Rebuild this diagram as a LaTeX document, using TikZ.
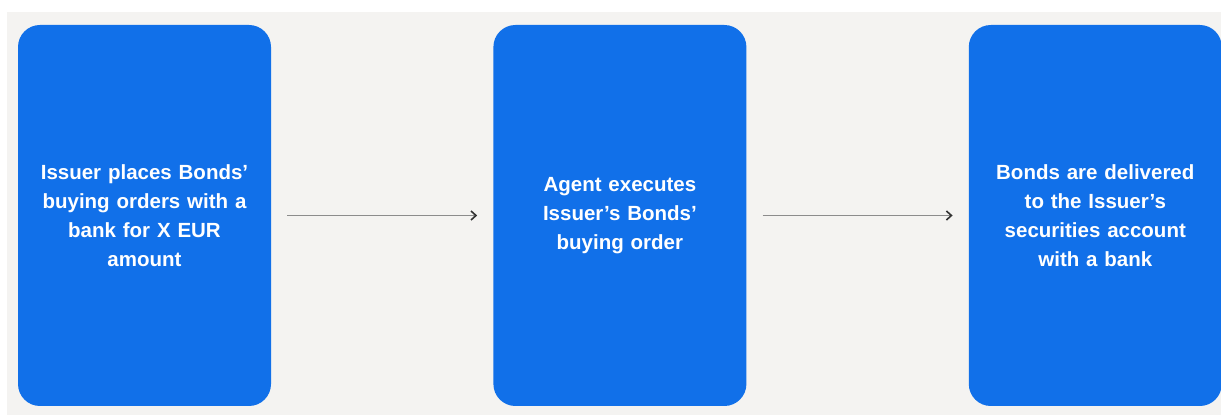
\documentclass[tikz,border=0pt]{standalone}
\usepackage{fontspec}
\setmainfont{Liberation Sans}
\usepackage{xcolor}
\usetikzlibrary{arrows.meta,positioning}
\definecolor{stepblue}{HTML}{1170E9}
\definecolor{pagegrey}{HTML}{F4F3F1}
\definecolor{linegrey}{HTML}{8C8C8C}
\definecolor{tipgrey}{HTML}{333333}
\begin{document}
\begin{tikzpicture}[
    x=1pt, y=1pt,
    node distance=222pt,
    stepbox/.style={rectangle, fill=stepblue, rounded corners=22pt, minimum width=253pt, minimum height=381pt,
        text=white, font=\fontsize{20.5}{29}\selectfont\bfseries, align=center, text width=235pt},
    arrow/.style={-{Straight Barb[length=5pt,width=9pt,line width=1.6pt,color=tipgrey]}, draw=linegrey, line width=1.8pt,
        shorten <=16pt, shorten >=16pt}
]
    \useasboundingbox (0,0) rectangle (1221,415);
    \fill[pagegrey] (7,0) rectangle (1221,403);

    \node[stepbox] (order) at (144.5,199.5) {Issuer places Bonds’\\buying orders with a\\bank for X EUR\\amount};
    \node[stepbox, right=of order] (execute) {Agent executes\\Issuer’s Bonds’\\buying order};
    \node[stepbox, right=of execute] (deliver) {Bonds are delivered\\to the Issuer’s\\securities account\\with a bank};

    \draw[arrow] (order) -- (execute);
    \draw[arrow] (execute) -- (deliver);
\end{tikzpicture}
\end{document}
